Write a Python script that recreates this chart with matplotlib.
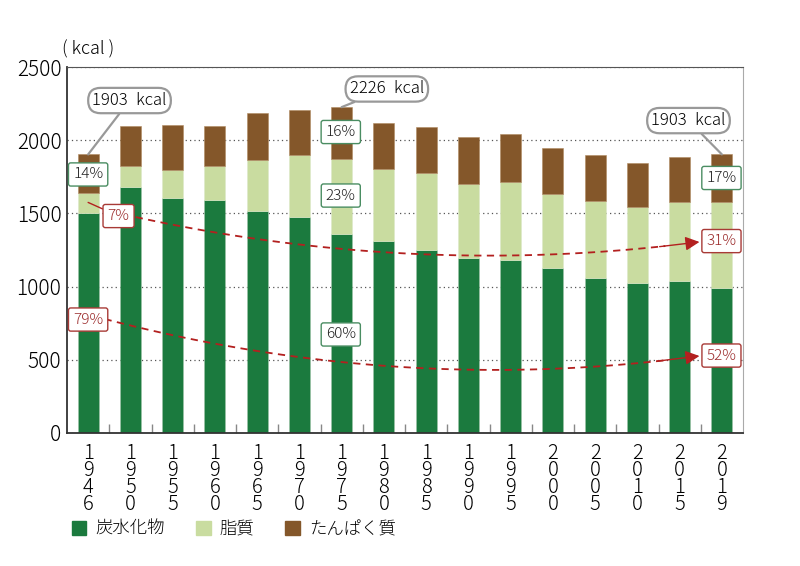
import numpy as np
import matplotlib.pyplot as plt
from matplotlib.patches import Patch

plt.rcParams['font.family'] = ['Noto Sans CJK JP', 'DejaVu Sans']

years = ['1946', '1950', '1955', '1960', '1965', '1970', '1975', '1980',
         '1985', '1990', '1995', '2000', '2005', '2010', '2015', '2019']
carbs = [1503, 1678, 1603, 1592, 1516, 1478, 1357, 1314,
         1250, 1195, 1182, 1127, 1061, 1022, 1036, 988]
fat_top = [1641, 1824, 1796, 1826, 1865, 1899, 1870, 1801,
           1774, 1699, 1712, 1633, 1583, 1544, 1576, 1580]
total = [1903, 2097, 2102, 2097, 2184, 2209, 2226, 2118,
         2088, 2024, 2040, 1945, 1901, 1847, 1888, 1903]

carbs = np.array(carbs)
fat = np.array(fat_top) - carbs
protein = np.array(total) - np.array(fat_top)

C_CARB = '#1b7a3e'
C_FAT = '#c9dca0'
C_PROT = '#84572a'
RED = '#b3201f'
RED_BOX = '#a83a36'
GREEN_BOX = '#4a8d62'

fig = plt.figure(figsize=(8, 5.66), dpi=100)
ax = fig.add_axes([0.08375, 0.235, 0.845, 0.6466])

x = np.arange(len(years))
w = 0.5
ax.bar(x, carbs, w, color=C_CARB, edgecolor='#9fc4a8', linewidth=0.4, zorder=2)
ax.bar(x, fat, w, bottom=carbs, color=C_FAT, edgecolor='#dde8c8', linewidth=0.4, zorder=2)
ax.bar(x, protein, w, bottom=fat_top, color=C_PROT, edgecolor='#b08a60', linewidth=0.4, zorder=2)

ax.set_xlim(-0.5, len(years) - 0.5)
ax.set_ylim(0, 2500)
ax.set_yticks([0, 500, 1000, 1500, 2000, 2500])
ax.tick_params(axis='y', length=0, pad=4)
for lab in ax.get_yticklabels():
    lab.set_fontsize(15)
    lab.set_fontweight('light')
ax.set_xticks(x)
ax.set_xticklabels(['\n'.join(y) for y in years], fontsize=14.5, linespacing=0.76,
                   fontweight='light')
ax.tick_params(axis='x', length=0, pad=7)
ax.set_xticks(x[:-1] + 0.5, minor=True)
ax.tick_params(axis='x', which='minor', direction='in', length=6.5, width=1, color='#888888')

ax.yaxis.grid(True, linestyle=(0, (1, 2.5)), color='#555555', linewidth=0.9)
ax.set_axisbelow(True)
for s in ['left', 'bottom']:
    ax.spines[s].set_color('#333333')
    ax.spines[s].set_linewidth(1.3)
ax.spines['top'].set_color('#555555')
ax.spines['right'].set_color('#aaaaaa')

fig.text(0.11, 1 - 49 / 566, '( kcal )', fontsize=13, ha='center', va='center',
         fontweight='light')

# total energy callouts
kcal_box = dict(boxstyle='round,pad=0.25,rounding_size=0.75', fc='white', ec='#999999', lw=1.6)
for i, pos in [(0, (0.98, 2271)), (6, (7.07, 2350)), (15, (14.21, 2134))]:
    ax.annotate(f'{total[i]}\u2002kcal', xy=(i, total[i]), xytext=pos, fontsize=12,
                ha='center', va='center', bbox=kcal_box, fontweight='light',
                arrowprops=dict(arrowstyle='-', color='#999999', lw=1.6,
                                shrinkA=0, shrinkB=0), zorder=5)

# percentage labels
def pct_box(xp, yp, s, red=False):
    ec = RED_BOX if red else GREEN_BOX
    tc = '#9b2a2a' if red else '#222222'
    ax.text(xp, yp, s, fontsize=11, ha='center', va='center', color=tc, zorder=6,
            fontweight='light',
            bbox=dict(boxstyle='round,pad=0.3,rounding_size=0.15', fc='white', ec=ec, lw=1))

pct_box(0, 1766, '14%')
pct_box(5.98, 2056, '16%')
pct_box(5.98, 1622, '23%')
pct_box(5.98, 673, '60%')
pct_box(14.99, 1742, '17%')
pct_box(0, 775, '79%', red=True)
pct_box(14.99, 1311, '31%', red=True)
pct_box(14.99, 529, '52%', red=True)

ax.annotate('7%', xy=(0, 1575), xytext=(0.72, 1482), fontsize=11, ha='center', va='center',
            color='#9b2a2a', zorder=6, fontweight='light',
            bbox=dict(boxstyle='round,pad=0.3,rounding_size=0.15', fc='white', ec=RED_BOX, lw=1),
            arrowprops=dict(arrowstyle='-', color=RED, lw=1, shrinkA=0, shrinkB=0))

# trend curves (quadratic bezier)
def trend(p0, p1, p2):
    t = np.linspace(0, 1, 100)[:, None]
    p0, p1, p2 = np.array(p0), np.array(p1), np.array(p2)
    pts = (1 - t) ** 2 * p0 + 2 * t * (1 - t) * p1 + t ** 2 * p2
    ax.plot(pts[:-6, 0], pts[:-6, 1], color=RED, lw=1.3, linestyle=(0, (4, 3)), zorder=4)
    ax.annotate('', xy=p2, xytext=pts[-8],
                arrowprops=dict(arrowstyle='-|>,head_length=0.85,head_width=0.42',
                                color=RED, lw=1, shrinkA=0, shrinkB=0), zorder=4)

trend((1.127, 1475), (7.8, 1055), (14.47, 1305))
trend((0.39, 779), (7.42, 249), (14.47, 526))

handles = [Patch(color=C_CARB, label='炭水化物'),
           Patch(color=C_FAT, label='脂質'),
           Patch(color=C_PROT, label='たんぱく質')]
fig.legend(handles=handles, loc='center left', bbox_to_anchor=(63 / 800, 1 - 529 / 566),
           ncol=3, frameon=False, handlelength=0.85, handleheight=0.85,
           handletextpad=0.5, columnspacing=1.8, borderpad=0,
           prop={'weight': 'light', 'size': 12.5})

fig.savefig('out.png', dpi=100)
